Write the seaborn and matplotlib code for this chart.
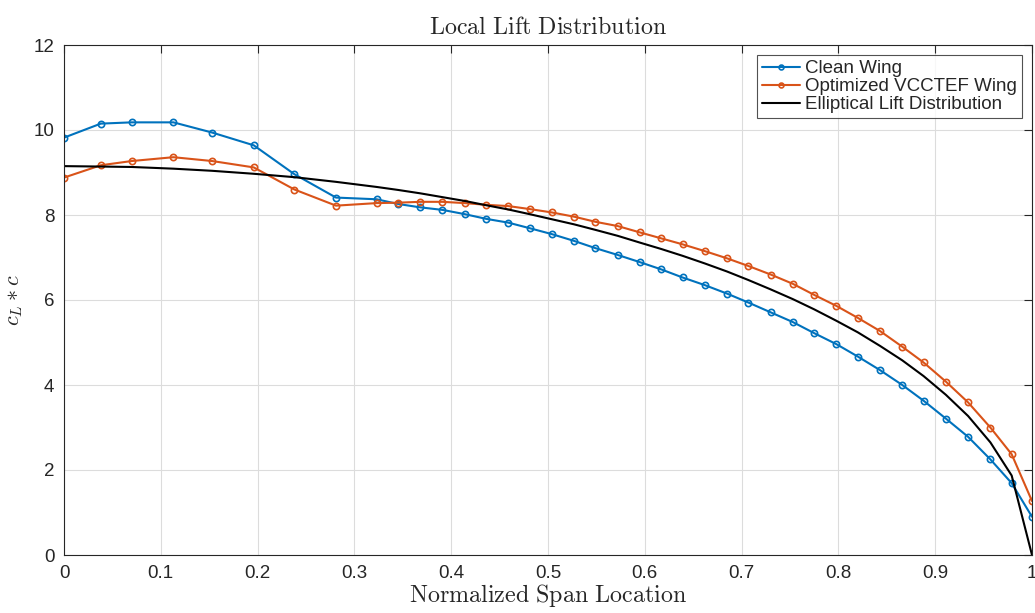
import numpy as np
import pandas as pd
import matplotlib
matplotlib.use("Agg")
import matplotlib.pyplot as plt
import seaborn as sns

span = [0.0, 0.038, 0.070, 0.113, 0.153, 0.196, 0.238, 0.281,
        0.323, 0.345, 0.368, 0.391, 0.414, 0.436, 0.459, 0.481, 0.504, 0.527,
        0.549, 0.572, 0.595, 0.617, 0.639, 0.662, 0.685, 0.707, 0.730, 0.753,
        0.775, 0.798, 0.820, 0.843, 0.866, 0.888, 0.911, 0.934, 0.957, 0.979, 1.0]

clean = [9.82, 10.15, 10.18, 10.18, 9.94, 9.64, 8.96, 8.41,
         8.37, 8.26, 8.18, 8.12, 8.02, 7.91, 7.82, 7.69, 7.55, 7.39,
         7.22, 7.06, 6.89, 6.72, 6.53, 6.35, 6.15, 5.94, 5.71, 5.48,
         5.22, 4.96, 4.67, 4.35, 4.00, 3.63, 3.21, 2.78, 2.25, 1.69, 0.90]

optimized = [8.88, 9.17, 9.27, 9.36, 9.27, 9.12, 8.60, 8.22,
             8.28, 8.29, 8.31, 8.31, 8.28, 8.24, 8.21, 8.14, 8.06, 7.96,
             7.84, 7.74, 7.59, 7.45, 7.31, 7.15, 6.98, 6.80, 6.60, 6.38,
             6.12, 5.86, 5.58, 5.27, 4.90, 4.53, 4.08, 3.59, 3.00, 2.37, 1.27]

elliptical = [9.15, 9.14, 9.13, 9.09, 9.04, 8.97, 8.89, 8.78,
              8.66, 8.59, 8.51, 8.42, 8.33, 8.23, 8.13, 8.02, 7.90, 7.78,
              7.65, 7.51, 7.35, 7.20, 7.04, 6.86, 6.67, 6.47, 6.25, 6.02,
              5.78, 5.51, 5.24, 4.92, 4.58, 4.21, 3.77, 3.27, 2.65, 1.87, 0.0]

series_names = ["Clean Wing", "Optimized VCCTEF Wing", "Elliptical Lift Distribution"]
x_ticks = [0, 0.1, 0.2, 0.3, 0.4, 0.5, 0.6, 0.7, 0.8, 0.9, 1.0]
x_tick_labels = ["0", "0.1", "0.2", "0.3", "0.4", "0.5", "0.6", "0.7", "0.8", "0.9", "1"]
y_ticks = [0, 2, 4, 6, 8, 10, 12]

sns.set_style("white")
plt.rcParams["font.family"] = ["Liberation Sans", "DejaVu Sans"]
plt.rcParams["mathtext.fontset"] = "cm"

fig = plt.figure(figsize=(10.35, 6.13), dpi=100)
ax = fig.add_axes([64 / 1035, 58 / 613, 968 / 1035, 510 / 613])

df = pd.DataFrame({"x": span, "clean": clean, "opt": optimized, "ell": elliptical})

sns.lineplot(data=df, x="x", y="clean", ax=ax, color="#0072BD", linewidth=1.5,
             marker="o", markersize=4.5, markerfacecolor="none",
             markeredgecolor="#0072BD", markeredgewidth=1.2, label=series_names[0])
sns.lineplot(data=df, x="x", y="opt", ax=ax, color="#D95319", linewidth=1.5,
             marker="o", markersize=4.5, markerfacecolor="none",
             markeredgecolor="#D95319", markeredgewidth=1.2, label=series_names[1])
sns.lineplot(data=df, x="x", y="ell", ax=ax, color="black", linewidth=1.5,
             label=series_names[2])

ax.set_xlim(0, 1)
ax.set_ylim(0, 12)
ax.set_xticks(x_ticks)
ax.set_xticklabels(x_tick_labels)
ax.set_yticks(y_ticks)
ax.grid(True, color="#dcdcdc", linewidth=0.8)
ax.set_axisbelow(True)
for s in ax.spines.values():
    s.set_color("#262626")
    s.set_linewidth(0.8)
ax.tick_params(direction="in", length=6, width=0.8, top=True, right=True,
               labelsize=13.5, colors="#262626", pad=7)

ax.set_title(r"$\mathrm{Local\ Lift\ Distribution}$", fontsize=17.3, pad=8)
ax.set_xlabel(r"$\mathrm{Normalized\ Span\ Location}$", fontsize=17.3, labelpad=0)
ax.set_ylabel(r"$c_L * c$", fontsize=16, labelpad=6)

leg = ax.legend(loc="upper right", fontsize=13.5, frameon=True, fancybox=False,
                edgecolor="#262626", borderpad=0.25, labelspacing=0.05,
                handlelength=2.0, handletextpad=0.3, borderaxespad=0.55)
leg.get_frame().set_linewidth(0.8)
for h in leg.get_lines()[:2]:
    h.set_markersize(3.5)

fig.savefig("out.png", dpi=100)
